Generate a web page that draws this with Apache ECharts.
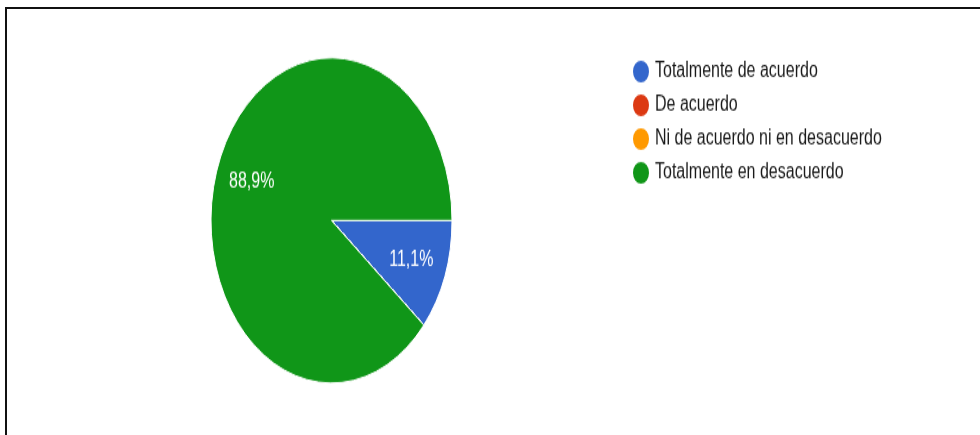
<!DOCTYPE html>
<html>
<head>
<meta charset="utf-8">
<script src="https://cdn.jsdelivr.net/npm/echarts@6/dist/echarts.min.js"></script>
<style>
  html, body { margin: 0; padding: 0; background: #fff; }
  #frame {
    position: absolute; left: 5px; top: 7px; width: 980px; height: 440px;
    border-top: 2px solid #111; border-left: 2px solid #111;
  }
  /* the source picture is stretched vertically, so the chart is too */
  #main {
    position: absolute; left: 0; top: 0; width: 980px; height: 322px;
    transform: scaleY(1.35); transform-origin: 0 0;
  }
</style>
</head>
<body>
<div id="main"></div>
<div id="frame"></div>
<script>
// respuestas
const categories = ['Totalmente de acuerdo', 'De acuerdo', 'Ni de acuerdo ni en desacuerdo', 'Totalmente en desacuerdo'];
const values = [1, 0, 0, 8];
const colors = ['#3366cc', '#dc3912', '#ff9900', '#109618'];

const font = '"Liberation Sans", Arial, sans-serif';
const center = [331.5, 163.3];
const radius = 120.5;

const pieData = categories.map((name, i) => ({value: values[i], name: name}));

var option = {
  animation: false,
  color: colors,
  legend: {
    orient: 'vertical',
    left: 626,
    top: 38,
    icon: 'circle',
    itemWidth: 18,
    itemHeight: 18,
    itemGap: 5,
    selectedMode: false,
    textStyle: {fontFamily: font, fontSize: 16, lineHeight: 16, color: '#1a1a1a', padding: [0, 0, 0, 0]},
    data: categories
  },
  series: [
    {
      name: 'respuestas',
      type: 'pie',
      center: center,
      radius: radius,
      startAngle: 0,
      clockwise: true,
      silent: true,
      itemStyle: {borderColor: '#fff', borderWidth: 1},
      label: {show: false},
      labelLine: {show: false},
      data: pieData
    },
    {
      // transparent copy, only to place the percent labels further out
      name: 'etiquetas',
      type: 'pie',
      center: center,
      radius: [radius * 0.36, radius],
      startAngle: 0,
      clockwise: true,
      silent: true,
      itemStyle: {color: 'rgba(0,0,0,0)', borderWidth: 0},
      label: {
        show: true,
        position: 'inside',
        color: '#fff',
        fontFamily: font,
        fontSize: 16,
        formatter: p => p.value ? p.percent.toFixed(1).replace('.', ',') + '%' : ''
      },
      labelLine: {show: false},
      data: pieData
    }
  ]
};

const chart = echarts.init(document.getElementById('main'), null, {renderer: 'canvas'});
chart.setOption(option);
</script>
</body>
</html>
